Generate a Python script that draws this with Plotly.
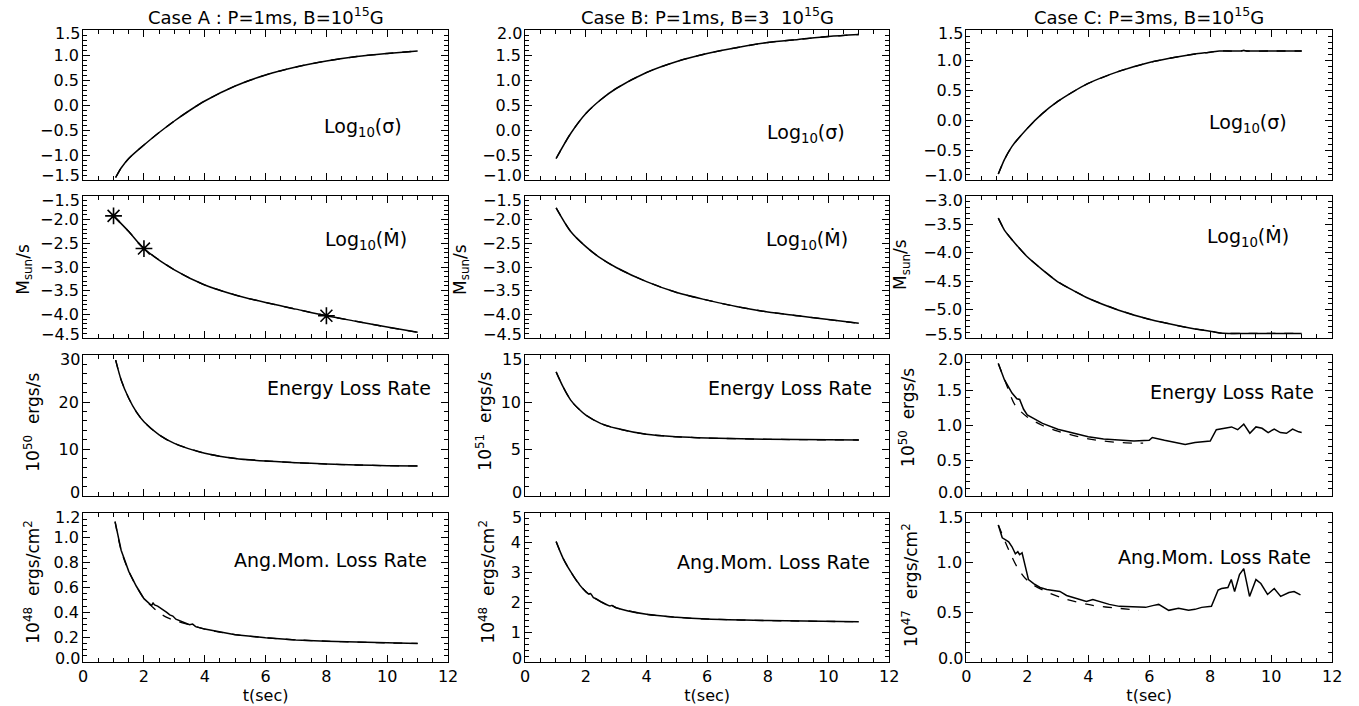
import plotly.graph_objects as go
from plotly.subplots import make_subplots

# ---------------- data ----------------
# Case A (P=1ms, B=1e15 G)
tA_sig = [1.07, 1.25, 1.5, 2, 2.5, 3, 3.5, 4, 5, 6, 7, 8, 9, 10, 11]
A_sig = [-1.45, -1.26, -1.07, -0.8, -0.55, -0.32, -0.11, 0.08, 0.38, 0.6, 0.76, 0.88, 0.97, 1.03, 1.08]

tA_mdot = [1.0, 1.5, 2, 3, 4, 5, 6, 7, 8, 9, 10, 11]
A_mdot = [-1.92, -2.25, -2.61, -3.06, -3.38, -3.59, -3.75, -3.89, -4.03, -4.15, -4.27, -4.38]
tA_star = [1.0, 2.0, 8.0]
A_star = [-1.92, -2.61, -4.03]

tA_en = [1.07, 1.25, 1.5, 1.75, 2, 2.5, 3, 4, 5, 6, 7, 8, 9, 10, 11]
A_en = [28.9, 24.7, 20.8, 17.9, 15.8, 13.0, 11.2, 9.1, 8.0, 7.45, 7.1, 6.8, 6.6, 6.45, 6.4]

tA_am = [1.05, 1.25, 1.5, 1.75, 2.0, 2.15, 2.25, 2.3, 2.35, 2.45, 2.55, 2.65, 2.75, 2.85,
         2.95, 3.05, 3.15, 3.25, 3.35, 3.5, 3.6, 3.7, 4, 4.5, 5, 6, 7, 8, 9, 10, 11]
A_am = [1.13, 0.90, 0.73, 0.61, 0.51, 0.48, 0.455, 0.475, 0.46, 0.45, 0.435, 0.42, 0.40, 0.38,
        0.37, 0.345, 0.335, 0.33, 0.315, 0.30, 0.305, 0.285, 0.265, 0.24, 0.22, 0.195, 0.178, 0.168,
        0.16, 0.153, 0.15]
tA_am_d = [1.05, 1.25, 1.5, 1.75, 2, 2.25, 2.5, 2.75, 3, 3.5, 4, 5, 6, 7, 8, 9, 10, 11]
A_am_d = [1.13, 0.9, 0.73, 0.61, 0.51, 0.45, 0.395, 0.36, 0.335, 0.30, 0.265, 0.22, 0.195, 0.178,
          0.168, 0.16, 0.153, 0.15]

# Case B (P=1ms, B=3e15 G)
tB = [1.02, 1.5, 2, 2.5, 3, 4, 5, 6, 7, 8, 9, 10, 11]
B_sig = [-0.57, -0.07, 0.33, 0.61, 0.83, 1.15, 1.37, 1.53, 1.65, 1.75, 1.81, 1.87, 1.91]
B_mdot = [-1.75, -2.25, -2.57, -2.82, -3.01, -3.31, -3.54, -3.70, -3.84, -3.95, -4.03, -4.11, -4.19]
tB_en = [1.02, 1.25, 1.5, 1.75, 2, 2.5, 3, 4, 5, 6, 8, 11]
B_en = [13.2, 11.6, 10.2, 9.3, 8.6, 7.7, 7.2, 6.56, 6.3, 6.17, 6.03, 5.96]
tB_am = [1.02, 1.25, 1.5, 1.7, 1.75, 1.8, 2, 2.1, 2.15, 2.25, 2.3, 2.5, 2.8, 2.85, 3, 4, 5, 6, 8, 11]
B_am = [4.04, 3.48, 3.03, 2.72, 2.66, 2.58, 2.36, 2.28, 2.3, 2.16, 2.14, 2.02, 1.88, 1.9, 1.82,
        1.6, 1.5, 1.44, 1.39, 1.35]

# Case C (P=3ms, B=1e15 G)
tC = [1.05, 1.25, 1.5, 2, 2.5, 3, 3.5, 4, 5, 6, 7, 7.5, 8, 8.3, 8.6, 9.0, 9.1, 9.2, 10, 11]
C_sig = [-0.9, -0.66, -0.44, -0.14, 0.11, 0.31, 0.47, 0.61, 0.81, 0.96, 1.06, 1.1, 1.13, 1.15, 1.15,
         1.15, 1.16, 1.15, 1.15, 1.15]
C_mdot = [-3.39, -3.6, -3.77, -4.07, -4.30, -4.51, -4.66, -4.80, -5.01, -5.17, -5.29, -5.34, -5.38,
          -5.41, -5.42, -5.42, -5.42, -5.42, -5.42, -5.42]

tC_en = [1.05, 1.25, 1.5, 1.66, 1.75, 1.88, 2.0, 2.5, 3.0, 3.5, 4.0, 4.5, 5.0, 5.5, 6.0, 6.1, 6.5, 7.0,
         7.18, 7.5, 8.0, 8.2, 8.5, 8.7, 8.9, 9.1, 9.3, 9.5, 9.7, 9.9, 10.1, 10.3, 10.5, 10.7, 10.9, 11.0]
C_en = [1.88, 1.65, 1.46, 1.38, 1.37, 1.23, 1.15, 1.03, 0.946, 0.89, 0.84, 0.81, 0.79, 0.78, 0.79, 0.83,
        0.79, 0.74, 0.73, 0.76, 0.78, 0.94, 0.96, 0.98, 0.94, 1.02, 0.89, 0.98, 0.96, 0.90, 0.95, 0.90,
        0.89, 0.95, 0.91, 0.90]
tC_en_d = [1.05, 1.3, 1.6, 2, 2.5, 3, 3.5, 4, 4.5, 5, 5.5, 5.8]
C_en_d = [1.88, 1.6, 1.29, 1.12, 1.0, 0.92, 0.86, 0.81, 0.78, 0.76, 0.75, 0.75]

tC_am = [1.05, 1.18, 1.29, 1.39, 1.50, 1.61, 1.69, 1.75, 1.83, 1.94, 2.04, 2.21, 2.42, 2.64, 2.85,
         3.07, 3.29, 3.50, 3.72, 3.94, 4.15, 4.37, 4.69, 5.02, 5.45, 5.88, 6.15, 6.31, 6.64, 6.96,
         7.29, 7.50, 7.72, 8.04, 8.26, 8.37, 8.58, 8.69, 8.80, 8.96, 9.10, 9.29, 9.50, 9.66, 9.88,
         10.10, 10.31, 10.58, 10.75, 10.96]
C_am = [1.38, 1.25, 1.23, 1.21, 1.16, 1.09, 1.11, 1.08, 1.10, 0.96, 0.83, 0.79, 0.75, 0.73, 0.72,
        0.71, 0.67, 0.65, 0.63, 0.61, 0.63, 0.61, 0.58, 0.56, 0.557, 0.55, 0.57, 0.58, 0.52, 0.54,
        0.52, 0.53, 0.55, 0.56, 0.725, 0.74, 0.75, 0.83, 0.71, 0.88, 0.94, 0.66, 0.83, 0.79, 0.68,
        0.74, 0.66, 0.70, 0.71, 0.675]
tC_am_d = [1.05, 1.39, 1.66, 1.94, 2.2, 2.75, 3.29, 4.15, 5.02, 5.66]
C_am_d = [1.38, 1.13, 0.96, 0.84, 0.775, 0.69, 0.63, 0.57, 0.54, 0.52]

NB = "\u00a0"
titles = ["Case A : P=1ms, B=10<sup>15</sup>G",
          "Case B: P=1ms, B=3" + NB + NB + "10<sup>15</sup>G",
          "Case C: P=3ms, B=10<sup>15</sup>G"]
row_labels = ["Log<sub>10</sub>(σ)", "Log<sub>10</sub>(Ṁ)", "Energy Loss Rate", "Ang.Mom. Loss Rate"]
ytitles = [[None, None, None],
           ["M<sub>sun</sub>/s"] * 3,
           ["10<sup>50</sup>" + NB + NB + "ergs/s", "10<sup>51</sup>" + NB + NB + "ergs/s",
            "10<sup>50</sup>" + NB + NB + "ergs/s"],
           ["10<sup>48</sup>" + NB + NB + "ergs/cm<sup>2</sup>", "10<sup>48</sup>" + NB + NB + "ergs/cm<sup>2</sup>",
            "10<sup>47</sup>" + NB + NB + "ergs/cm<sup>2</sup>"]]

yranges = [[[-1.5, 1.5], [-1.0, 2.0], [-1.0, 1.5]],
           [[-4.5, -1.5], [-4.5, -1.5], [-5.5, -3.0]],
           [[0, 30], [0, 15], [0, 2.0]],
           [[0, 1.2], [0, 5], [0, 1.5]]]
ydticks = [[(0.5, 0.1), (0.5, 0.1), (0.5, 0.1)],
           [(0.5, 0.1), (0.5, 0.1), (0.5, 0.1)],
           [(10, 2), (5, 1), (0.5, 0.1)],
           [(0.2, 0.05), (1, 0.2), (0.5, 0.1)]]
ydec = [[1, 1, 1], [1, 1, 1], [0, 0, 1], [1, 0, 1]]
xticks = [0, 2, 4, 6, 8, 10, 12]

# ---------------- layout helpers ----------------
W, H = 1359, 706
def fx(p):
    return p / W
def fy(p):
    return 1 - p / H

def fmt(v, d):
    s = f"{abs(v):.{d}f}"
    return ("\u2212" + s) if v < -1e-9 else s

col_px = [(79, 448), (526, 894), (972, 1342)]
row_px = [(30, 180), (196, 338), (355, 496), (513, 662)]

fig = make_subplots(rows=4, cols=3)

solid = dict(color="black", width=1.5)
dashed = dict(color="black", width=1.3, dash="dash")

def add(r, c, x, y, line, shape="spline", sm=0.8):
    ln = dict(line, shape=shape)
    if shape == "spline":
        ln["smoothing"] = sm
    fig.add_trace(go.Scatter(x=x, y=y, mode="lines", line=ln,
                             showlegend=False, hoverinfo="skip"), row=r, col=c)

# Case A
add(1, 1, tA_sig, A_sig, dashed); add(1, 1, tA_sig, A_sig, solid)
add(2, 1, tA_mdot, A_mdot, dashed); add(2, 1, tA_mdot, A_mdot, solid)
fig.add_trace(go.Scatter(x=tA_star, y=A_star, mode="markers",
                         marker=dict(symbol="asterisk-open", size=14, color="black",
                                     line=dict(color="black", width=1.6)),
                         showlegend=False, hoverinfo="skip"), row=2, col=1)
add(3, 1, tA_en, A_en, dashed); add(3, 1, tA_en, A_en, solid)
add(4, 1, tA_am_d, A_am_d, dashed); add(4, 1, tA_am, A_am, solid, "linear")
# Case B
add(1, 2, tB, B_sig, dashed); add(1, 2, tB, B_sig, solid)
add(2, 2, tB, B_mdot, dashed); add(2, 2, tB, B_mdot, solid)
add(3, 2, tB_en, B_en, dashed); add(3, 2, tB_en, B_en, solid)
add(4, 2, tB_am, B_am, dashed); add(4, 2, tB_am, B_am, solid)
# Case C
add(1, 3, tC, C_sig, dashed, sm=0.5); add(1, 3, tC, C_sig, solid, sm=0.5)
add(2, 3, tC, C_mdot, dashed, sm=0.5); add(2, 3, tC, C_mdot, solid, sm=0.5)
add(3, 3, tC_en_d, C_en_d, dashed); add(3, 3, tC_en, C_en, solid, "linear")
add(4, 3, tC_am_d, C_am_d, dashed); add(4, 3, tC_am, C_am, solid, "linear")

FONT = "DejaVu Sans"
TICKSIZE = 16
tickfont = dict(family=FONT, size=TICKSIZE, color="black")

ann = []
for r in range(4):
    for c in range(3):
        idx = r * 3 + c + 1
        xa = "xaxis" if idx == 1 else f"xaxis{idx}"
        ya = "yaxis" if idx == 1 else f"yaxis{idx}"
        x0, x1 = col_px[c]
        y0, y1 = row_px[r]
        fig.layout[xa].update(
            domain=[fx(x0), fx(x1)], range=[0, 12],
            tickvals=xticks, ticktext=[str(v) for v in xticks],
            showgrid=False, zeroline=False, showline=True, linecolor="black", linewidth=1,
            mirror="allticks", ticks="inside", ticklen=7, tickcolor="black", tickwidth=1,
            minor=dict(dtick=0.5, ticks="inside", ticklen=4, tickcolor="black", showgrid=False),
            showticklabels=(r == 3), tickfont=tickfont,
            title=dict(text="t(sec)" if r == 3 else "", font=dict(family=FONT, size=16, color="black"),
                       standoff=0),
        )
        lo, hi = yranges[r][c]
        dmaj, dmin = ydticks[r][c]
        n = int(round((hi - lo) / dmaj))
        vals = [round(lo + k * dmaj, 6) for k in range(n + 1)]
        texts = [fmt(v, ydec[r][c]) for v in vals]
        # edge labels are drawn nudged inside the frame (as in the original)
        shown = [""] + texts[1:-1] + [""]
        fig.layout[ya].update(
            domain=[fy(y1), fy(y0)], range=[lo, hi], tickvals=vals, ticktext=shown,
            showgrid=False, zeroline=False, showline=True, linecolor="black", linewidth=1,
            mirror="allticks", ticks="inside", ticklen=7, tickcolor="black", tickwidth=1,
            minor=dict(dtick=dmin, ticks="inside", ticklen=4, tickcolor="black", showgrid=False),
            tickfont=tickfont,
        )
        for txt, ypix in ((texts[0], y1 - 4), (texts[-1], y0 + 4)):
            ann.append(dict(text=txt, x=fx(x0 - 2), y=fy(ypix), xref="paper", yref="paper",
                            xanchor="right", yanchor="middle", showarrow=False, borderpad=0,
                            font=tickfont))

# column titles
for c in range(3):
    x0, x1 = col_px[c]
    ann.append(dict(text=titles[c], x=fx((x0 + x1) / 2), y=fy(16), xref="paper", yref="paper",
                    xanchor="center", yanchor="middle", showarrow=False,
                    font=dict(family=FONT, size=18, color="black")))

# panel labels
lab_pos = [
    [(362, 128, "center"), (810, 133, "center"), (1257, 123, "center")],
    [(365, 240, "center"), (811, 240, "center"), (1257, 237, "center")],
    [(433, 388, "right"), (879, 388, "right"), (1326, 392, "right")],
    [(429, 560, "right"), (877, 562, "right"), (1323, 557, "right")],
]
for r in range(4):
    for c in range(3):
        x, y, anc = lab_pos[r][c]
        ann.append(dict(text=row_labels[r], x=fx(x), y=fy(y), xref="paper", yref="paper",
                        xanchor=anc, yanchor="middle", showarrow=False,
                        font=dict(family=FONT, size=19, color="black")))

# y titles
yt_pos = [
    [None, None, None],
    [(19, 269), (461, 269), (907, 264)],
    [(27, 422), (484, 421), (912, 417)],
    [(27, 582), (487, 582), (915, 585)],
]
for r in range(1, 4):
    for c in range(3):
        x, y = yt_pos[r][c]
        ann.append(dict(text=ytitles[r][c], x=fx(x), y=fy(y), xref="paper", yref="paper",
                        xanchor="center", yanchor="middle", showarrow=False, textangle=-90,
                        font=dict(family=FONT, size=17, color="black")))

fig.update_layout(
    width=W, height=H, margin=dict(l=0, r=0, t=0, b=0),
    paper_bgcolor="white", plot_bgcolor="white",
    annotations=ann, showlegend=False,
    font=dict(family=FONT, color="black"),
)

fig.write_html("out.html", config={"displayModeBar": False},
               post_script="document.body.style.margin='0px';document.body.style.padding='0px';")
